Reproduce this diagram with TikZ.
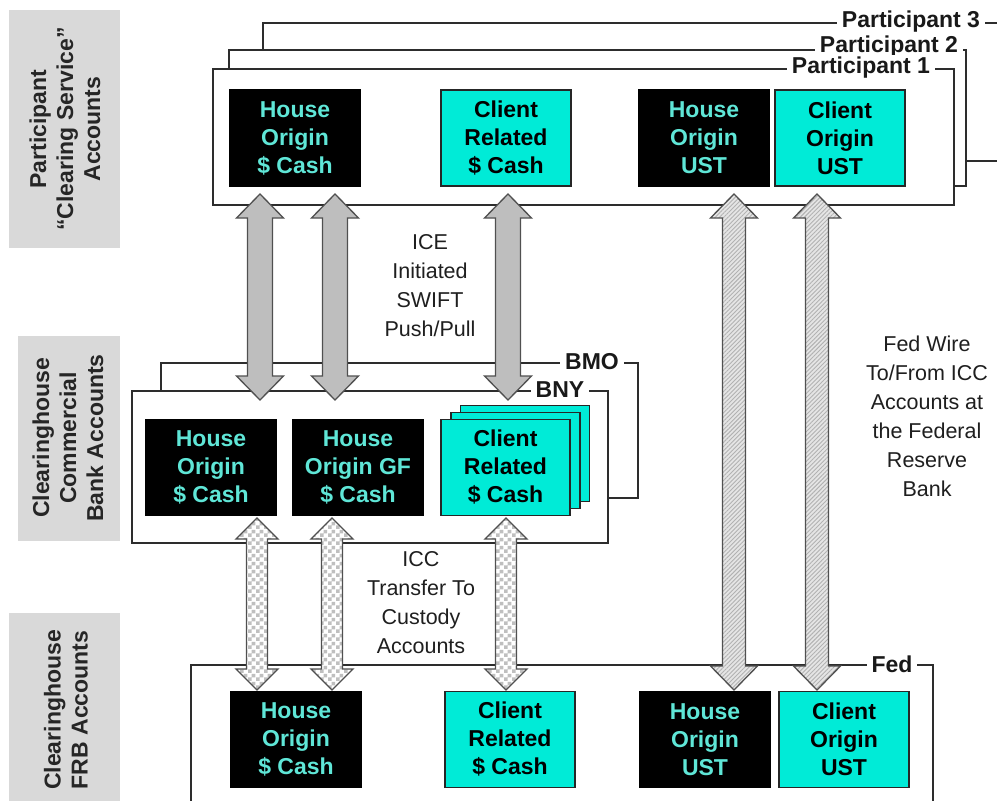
\documentclass[tikz,border=0pt]{standalone}
\usepackage{fontspec}
\setmainfont{Liberation Sans}
\usetikzlibrary{calc,patterns,patterns.meta}
\definecolor{cyanfill}{RGB}{0,235,215}
\definecolor{cyantext}{RGB}{95,230,215}
\definecolor{labelgray}{RGB}{217,217,217}
\definecolor{linegray}{RGB}{45,45,45}
\definecolor{arrowgray}{RGB}{190,190,190}
\definecolor{arrowline}{RGB}{80,80,80}
\pgfdeclarepatternformonly{checkers}{\pgfqpoint{0pt}{0pt}}{\pgfqpoint{8pt}{8pt}}{\pgfqpoint{8pt}{8pt}}{%
  \pgfpathrectangle{\pgfqpoint{0pt}{0pt}}{\pgfqpoint{4pt}{4pt}}%
  \pgfpathrectangle{\pgfqpoint{4pt}{4pt}}{\pgfqpoint{4pt}{4pt}}%
  \pgfusepath{fill}}
\newcommand\boldtxt{\fontsize{23}{28}\selectfont\bfseries}
\newcommand\labtxt{\fontsize{23}{27}\selectfont\bfseries}
\newcommand\regtxt{\fontsize{21.5}{29}\selectfont}
% #1 style, #2 top coord, #3 bottom coord, #4 head half width, #5 shaft half width, #6 head length
\newcommand\dblarrow[6]{%
  \path[#1] let \p1=(#2), \p2=(#3) in
    (\x1,\y1) -- (\x1+#4pt,\y1-#6pt) -- (\x1+#5pt,\y1-#6pt) -- (\x1+#5pt,\y2+#6pt)
    -- (\x1+#4pt,\y2+#6pt) -- (\x1,\y2) -- (\x1-#4pt,\y2+#6pt) -- (\x1-#5pt,\y2+#6pt)
    -- (\x1-#5pt,\y1-#6pt) -- (\x1-#4pt,\y1-#6pt) -- cycle;}
\tikzset{
  container/.style={draw=linegray, line width=1.5pt, fill=white, anchor=north west, inner sep=0pt},
  tagtxt/.style={fill=white, font=\boldtxt, text=black!90, inner xsep=5pt, inner ysep=2pt},
  acct/.style={minimum width=130pt, minimum height=96pt, align=center, inner sep=0pt, font=\boldtxt, line width=1.3pt},
  acctblack/.style={acct, draw=black, fill=black, text=cyantext},
  acctcyan/.style={acct, draw=black!85, fill=cyanfill, text=black},
  seclabel/.style={fill=labelgray, anchor=north west, inner sep=0pt},
  sectext/.style={rotate=90, align=center, font=\labtxt, text=black!85},
  flowtxt/.style={align=center, font=\regtxt, text=black!88},
  solidarrow/.style={fill=arrowgray, draw=arrowline, line width=1.3pt, line join=miter},
  checkarrow/.style={preaction={fill=white}, pattern=checkers, pattern color=black!25, draw=arrowline, line width=1.3pt},
  hatcharrow/.style={preaction={fill=black!10}, pattern={Lines[angle=45,distance=3pt,line width=0.9pt]}, pattern color=black!30, draw=arrowline, line width=1.3pt}
}
\begin{document}
\begin{tikzpicture}[x=1pt,y=-1pt]
\clip (0,0) rectangle (997,801);
\fill[white] (0,0) rectangle (997,801);

% section labels
\node[seclabel, minimum width=111pt, minimum height=238pt] (s1) at (9,10) {};
\node[sectext] (s1t) at (65,129) {Participant\\“Clearing Service”\\Accounts};
\node[seclabel, minimum width=102pt, minimum height=205pt] (s2) at (18,336) {};
\node[sectext] (s2t) at (68,438) {Clearinghouse\\Commercial\\Bank Accounts};
\node[seclabel, minimum width=111pt, minimum height=200pt] (s3) at (9,613) {};
\node[sectext] (s3t) at (66,710) {Clearinghouse\\FRB Accounts};

% participant containers
\node[container, minimum width=760pt, minimum height=138pt] (p3) at (262,22) {};
\node[tagtxt] (p3l) at (911,22) {Participant 3};
\node[container, minimum width=737pt, minimum height=136pt] (p2) at (228,49) {};
\node[tagtxt] (p2l) at (889,47) {Participant 2};
\node[container, minimum width=741pt, minimum height=136pt] (p1) at (212,68) {};
\node[tagtxt] (p1l) at (861,68) {Participant 1};

\node[acctblack] (ph1) at (295,138) {House\\Origin\\\$ Cash};
\node[acctcyan]  (pc1) at (506,138) {Client\\Related\\\$ Cash};
\node[acctblack] (ph2) at (704,138) {House\\Origin\\UST};
\node[acctcyan]  (pc2) at (840,138) {Client\\Origin\\UST};

% bank containers
\node[container, minimum width=477pt, minimum height=135pt] (bmo) at (160,362) {};
\node[tagtxt] (bmol) at (592,362) {BMO};
\node[container, minimum width=476pt, minimum height=152pt] (bny) at (131,390) {};
\node[tagtxt] (bnyl) at (560,390) {BNY};

\node[acctblack] (bh1) at (211,467.5) {House\\Origin\\\$ Cash};
\node[acctblack] (bh2) at (358,467.5) {House\\Origin GF\\\$ Cash};
\node[acctcyan, minimum width=129pt] (bc3) at (525,453.5) {};
\node[acctcyan, minimum width=129pt] (bc2) at (515.5,460.5) {};
\node[acctcyan, minimum width=129pt] (bc1) at (505.5,467.5) {Client\\Related\\\$ Cash};

% Fed container
\node[container, minimum width=742pt, minimum height=160pt] (fed) at (190,664) {};
\node[tagtxt] (fedl) at (892,664) {Fed};

\node[acctblack] (fh1) at (296,739.5) {House\\Origin\\\$ Cash};
\node[acctcyan]  (fc1) at (510,739.5) {Client\\Related\\\$ Cash};
\node[acctblack] (fh2) at (705,739.5) {House\\Origin\\UST};
\node[acctcyan]  (fc2) at (844,739.5) {Client\\Origin\\UST};

% arrow end points
\coordinate (ice1t) at (260,194); \coordinate (ice1b) at (260,400);
\coordinate (ice2t) at (335,194); \coordinate (ice2b) at (335,400);
\coordinate (ice3t) at (508,194); \coordinate (ice3b) at (508,400);
\coordinate (icc1t) at (257,518); \coordinate (icc1b) at (257,690);
\coordinate (icc2t) at (332,518); \coordinate (icc2b) at (332,690);
\coordinate (icc3t) at (506,518); \coordinate (icc3b) at (506,690);
\coordinate (fw1t) at (734,194); \coordinate (fw1b) at (734,690);
\coordinate (fw2t) at (817,194); \coordinate (fw2b) at (817,690);

\dblarrow{solidarrow}{ice1t}{ice1b}{23.5}{12.5}{24}
\dblarrow{solidarrow}{ice2t}{ice2b}{23.5}{12.5}{24}
\dblarrow{solidarrow}{ice3t}{ice3b}{23.5}{12.5}{24}
\dblarrow{checkarrow}{icc1t}{icc1b}{21}{10.5}{21}
\dblarrow{checkarrow}{icc2t}{icc2b}{21}{10.5}{21}
\dblarrow{checkarrow}{icc3t}{icc3b}{21}{10.5}{21}
\dblarrow{hatcharrow}{fw1t}{fw1b}{23.5}{11.5}{24}
\dblarrow{hatcharrow}{fw2t}{fw2b}{23.5}{11.5}{24}

% flow texts
\node[flowtxt] (ice) at (430,286) {ICE\\Initiated\\SWIFT\\Push/Pull};
\node[flowtxt] (icc) at (421,603) {ICC\\Transfer To\\Custody\\Accounts};
\node[flowtxt] (fw) at (927,416) {Fed Wire\\To/From ICC\\Accounts at\\the Federal\\Reserve\\Bank};
\end{tikzpicture}
\end{document}
